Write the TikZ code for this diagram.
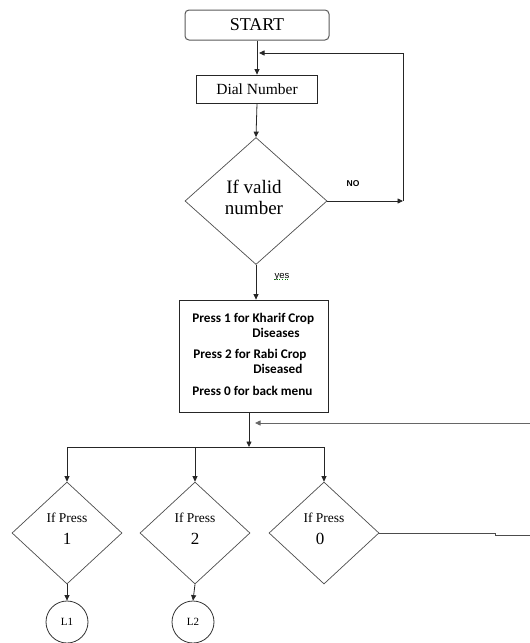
\documentclass[tikz,border=0pt]{standalone}
\usepackage{fontspec}
\setmainfont{Liberation Serif}
\newfontfamily\calibri{Carlito}
\newfontfamily\arialf{Liberation Sans}
\usetikzlibrary{shapes.geometric,arrows.meta}
\begin{document}
\begin{tikzpicture}[x=1pt,y=-1pt,
  line width=0.8pt,
  conn/.style={draw=black!85},
  arr/.style={conn,-{Triangle[length=5.5pt,width=5pt]}},
  boxst/.style={draw=black!85,rectangle,inner sep=0pt},
  dia/.style={draw=black!70,diamond,inner sep=0pt,line width=0.7pt},
  menutxt/.style={anchor=base west,inner sep=0pt,font=\calibri\bfseries\fontsize{13.2}{15}\selectfont},
  smalldia/.style={dia,minimum width=110pt,minimum height=102pt},
  ifp/.style={anchor=base,inner sep=0pt,font=\fontsize{13.5}{15}\selectfont},
  digit/.style={anchor=base,inner sep=0pt,font=\fontsize{17}{19}\selectfont},
  lab/.style={draw=black!80,circle,minimum size=42pt,inner sep=0pt,font=\fontsize{11}{13}\selectfont}
]
\useasboundingbox (0,0) rectangle (530,643);
% nodes
\node[boxst,rounded corners=4pt,minimum width=144pt,minimum height=30pt,draw=black!65,line width=1pt,font=\fontsize{18}{20}\selectfont] (start) at (257,25) {START};
\node[boxst,minimum width=121pt,minimum height=28pt,font=\fontsize{15.5}{18}\selectfont] (dial) at (257,89) {Dial Number};
\node[dia,minimum width=142pt,minimum height=127pt] (valid) at (256,201) {};
\node[anchor=base,inner sep=0pt,font=\fontsize{19}{21}\selectfont] (v1) at (254,193) {If valid};
\node[anchor=base,inner sep=0pt,font=\fontsize{19}{21}\selectfont] (v2) at (254,214) {number};
\node[anchor=center,inner sep=0pt,font=\arialf\bfseries\fontsize{8.5}{10}\selectfont] (no) at (353,184) {NO};
\node[anchor=center,inner sep=0pt,font=\arialf\fontsize{9.5}{11}\selectfont] (yes) at (282,277) {yes};
\draw[green!50!black,dotted,line width=0.6pt] ([yshift=1.5pt]yes.south west) -- ([yshift=1.5pt]yes.south east);
\node[boxst,minimum width=149pt,minimum height=112pt] (menu) at (253.5,356) {};
\node[menutxt] (m1) at (192,322) {Press 1 for Kharif Crop};
\node[menutxt] (m2) at (252,337) {Diseases};
\node[menutxt] (m3) at (193,358) {Press 2 for Rabi Crop};
\node[menutxt] (m4) at (253,373) {Diseased};
\node[menutxt] (m5) at (192,395) {Press 0 for back menu};
\node[smalldia] (d1) at (67,533) {};
\node[smalldia] (d2) at (195,533) {};
\node[smalldia] (d3) at (324,533) {};
\node[ifp] (d1a) at (67,522) {If Press};
\node[digit] (d1b) at (67,544) {1};
\node[ifp] (d2a) at (195,522) {If Press};
\node[digit] (d2b) at (195,544) {2};
\node[ifp] (d3a) at (324,522) {If Press};
\node[digit] (d3b) at (320,544) {0};
\node[lab] (c1) at (67,622) {L1};
\node[lab] (c2) at (193,622) {L2};
% coordinates
\coordinate (nocorner) at (403,201);
\coordinate (loopcorner) at (403,53);
\coordinate (loopin) at (258,53);
\coordinate (split) at (249,447);
\coordinate (b1) at (67,447);
\coordinate (b2) at (195,447);
\coordinate (b3) at (324,447);
\coordinate (retstart) at (530,423);
\coordinate (retend) at (249,423);
\coordinate (out1) at (495,533);
\coordinate (out2) at (495,535.5);
\coordinate (out3) at (530,535.5);
% connectors
\draw[arr] (start.south -| dial.north) -- (dial.north);
\draw[conn] (nocorner) -- (loopcorner);
\draw[arr] (loopcorner) -- ([xshift=1pt]loopin);
\draw[arr] (dial.south) -- (valid.north);
\draw[arr] (valid.east) -- (nocorner);
\draw[arr] (valid.south) -- (valid.south |- menu.north);
\draw[arr] (split |- menu.south) -- (split);
\draw[arr,draw=black!60] (retstart) -- ([xshift=6pt]retend);
\draw[conn] (b1) -- (b3);
\draw[arr] (b1) -- (d1.north);
\draw[arr] (b2) -- (d2.north);
\draw[arr] (b3) -- (d3.north);
\draw[conn,draw=black!70] (d3.east) -- (out1) -- (out2) -- (out3);
\draw[arr] (d1.south) -- (c1.north);
\draw[arr] (d2.south) -- (c2.north);
\end{tikzpicture}
\end{document}
